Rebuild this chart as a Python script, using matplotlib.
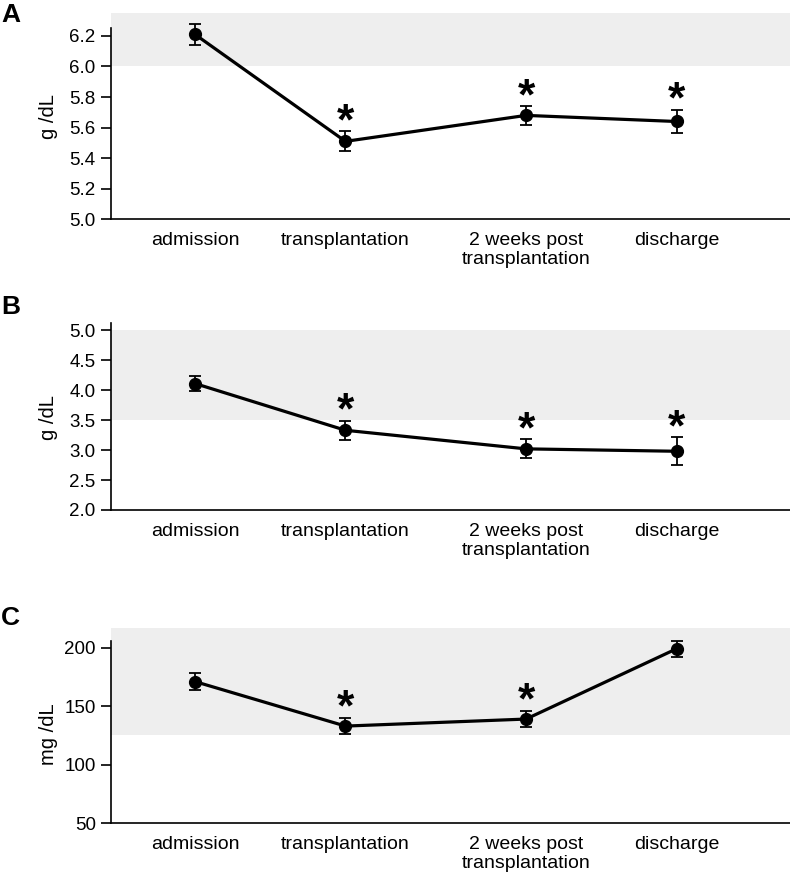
"""Serum protein time course, three panels."""

import matplotlib.pyplot as plt

plt.rcParams['font.family'] = ['Liberation Sans', 'DejaVu Sans']

categories = ["admission", "transplantation", "2 weeks post\ntransplantation", "discharge"]
x_pos = [1, 2, 3.2, 4.2]

# panel A: total protein
a_mean = [6.21, 5.51, 5.68, 5.64]
a_err = [0.07, 0.065, 0.06, 0.075]
a_sig = [False, True, True, True]
a_ref = (6.0, 6.35)

# panel B: albumin
b_mean = [4.11, 3.33, 3.02, 2.98]
b_err = [0.13, 0.16, 0.16, 0.23]
b_sig = [False, True, True, True]
b_ref = (3.5, 5.0)

# panel C
c_mean = [171, 133, 139, 199]
c_err = [7, 7, 7, 7]
c_sig = [False, True, True, False]
c_ref = (125, 217)

W, H = 790, 877
fig = plt.figure(figsize=(W / 100, H / 100), dpi=100)


def panel(top_px, bottom_px, mean, err, sig, ref, ylim, spine_top, yticks, fmt,
          ylabel, label_y, letter, letter_y):
    ax = fig.add_axes([111 / W, 1 - bottom_px / H, 679 / W, (bottom_px - top_px) / H])
    ax.axhspan(ref[0], ref[1], color='#eeeeee', zorder=0, lw=0)
    ax.plot(x_pos, mean, color='black', lw=2.3, zorder=2)
    ax.errorbar(x_pos, mean, yerr=err, fmt='o', color='black', ms=8.5,
                elinewidth=1.3, capsize=4.5, capthick=1.3, zorder=3)
    for x, m, e, s in zip(x_pos, mean, err, sig):
        if s:
            ax.annotate('*', xy=(x, m + e), xytext=(0, -2), textcoords='offset points',
                        ha='center', va='baseline', fontsize=32, fontweight='bold')
    ax.set_xlim(0.442, 4.954)
    ax.set_ylim(*ylim)
    ax.set_yticks(yticks)
    ax.set_yticklabels([fmt.format(t) for t in yticks])
    ax.set_xticks(x_pos)
    ax.set_xticklabels(categories, fontsize=14)
    ax.tick_params(axis='x', length=0, pad=9)
    ax.tick_params(axis='y', length=7, width=1.2, labelsize=13.5, pad=4)
    for s in ('top', 'right'):
        ax.spines[s].set_visible(False)
    ax.spines['left'].set_linewidth(1.2)
    ax.spines['bottom'].set_linewidth(1.2)
    ax.spines['left'].set_bounds(ylim[0], spine_top)
    ax.set_ylabel(ylabel, fontsize=14.5)
    ax.yaxis.set_label_coords(-0.078, label_y)
    fig.text(1 / W, 1 - letter_y / H, letter, fontsize=19, fontweight='bold',
             va='baseline', ha='left')
    return ax


panel(13, 219.3, a_mean, a_err, a_sig, a_ref, (5.0, 6.35), 6.25,
      [5.0, 5.2, 5.4, 5.6, 5.8, 6.0, 6.2], '{:.1f}', 'g /dL', 0.497, 'A', 22)
panel(323, 510, b_mean, b_err, b_sig, b_ref, (2.0, 5.12), 5.12,
      [2.0, 2.5, 3.0, 3.5, 4.0, 4.5, 5.0], '{:.1f}', 'g /dL', 0.495, 'B', 314)
panel(627.7, 823.3, c_mean, c_err, c_sig, c_ref, (50, 217), 206,
      [50, 100, 150, 200], '{:.0f}', 'mg /dL', 0.457, 'C', 625)

fig.savefig('out.png', dpi=100)
